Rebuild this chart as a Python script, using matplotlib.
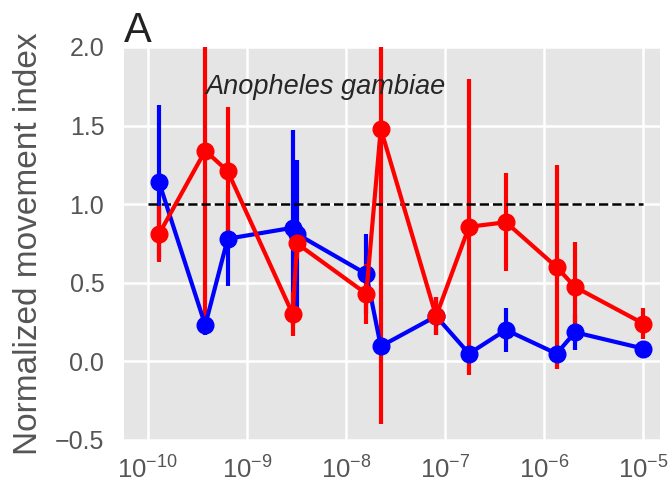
import numpy as np
import matplotlib.pyplot as plt

plt.style.use('ggplot')
plt.rcParams['font.family'] = ['Liberation Sans', 'DejaVu Sans']
plt.rcParams['mathtext.default'] = 'regular'

# Concentrations (M) and normalized movement index, mean +/- error
conc = [1.3e-10, 3.8e-10, 6.4e-10, 2.9e-9, 3.2e-9, 1.6e-8, 2.24e-8,
        8.1e-8, 1.74e-7, 4.1e-7, 1.33e-6, 2.04e-6, 1e-5]

blue_mean = [1.14, 0.23, 0.78, 0.85, 0.81, 0.556, 0.096,
             0.287, 0.049, 0.20, 0.049, 0.185, 0.081]
blue_err = [0.49, 0.06, 0.30, 0.62, 0.47, 0.255, 0.03,
            0.12, 0.03, 0.14, 0.03, 0.115, 0.03]

red_mean = [0.81, 1.34, 1.21, 0.30, 0.75, 0.43, 1.48,
            0.287, 0.856, 0.885, 0.60, 0.473, 0.24]
red_err = [0.18, 1.13, 0.41, 0.14, 0.10, 0.19, 1.88,
           0.12, 0.94, 0.31, 0.65, 0.285, 0.10]

fig = plt.figure(figsize=(6.69, 4.84), dpi=100)
ax = fig.add_axes([0.185, 0.091, 0.802, 0.812])

ax.errorbar(conc, blue_mean, yerr=blue_err, color='blue', marker='o',
            markersize=12, linewidth=3, elinewidth=3, capsize=0)
ax.errorbar(conc, red_mean, yerr=red_err, color='red', marker='o',
            markersize=12, linewidth=3, elinewidth=3, capsize=0)
ax.plot([1e-10, 1e-5], [1, 1], 'k--', linewidth=1.8)

ax.set_xscale('log')
ax.set_xlim(10**-10.242, 10**-4.83)
ax.set_ylim(-0.5, 2.0)
ax.set_yticks([-0.5, 0.0, 0.5, 1.0, 1.5, 2.0])
ax.set_xticks([1e-10, 1e-9, 1e-8, 1e-7, 1e-6, 1e-5])
ax.minorticks_off()
ax.grid(True, color='white', linewidth=1.8)
ax.tick_params(axis='y', length=0, pad=14, labelsize=18, labelcolor='#555555')
ax.tick_params(axis='x', length=0, pad=12, labelsize=18.5, labelcolor='#555555')
for s in ax.spines.values():
    s.set_visible(False)

ax.set_ylabel('Normalized movement index', fontsize=24, color='#555555', labelpad=8)
ax.text(3.8e-10, 1.7, 'Anopheles gambiae', fontsize=19.5, style='italic',
        color='#262626', ha='left', va='baseline')
fig.text(124 / 669, 1 - 42 / 484, 'A', fontsize=30, color='#222222',
         ha='left', va='baseline')

fig.savefig('out.png', dpi=100)
